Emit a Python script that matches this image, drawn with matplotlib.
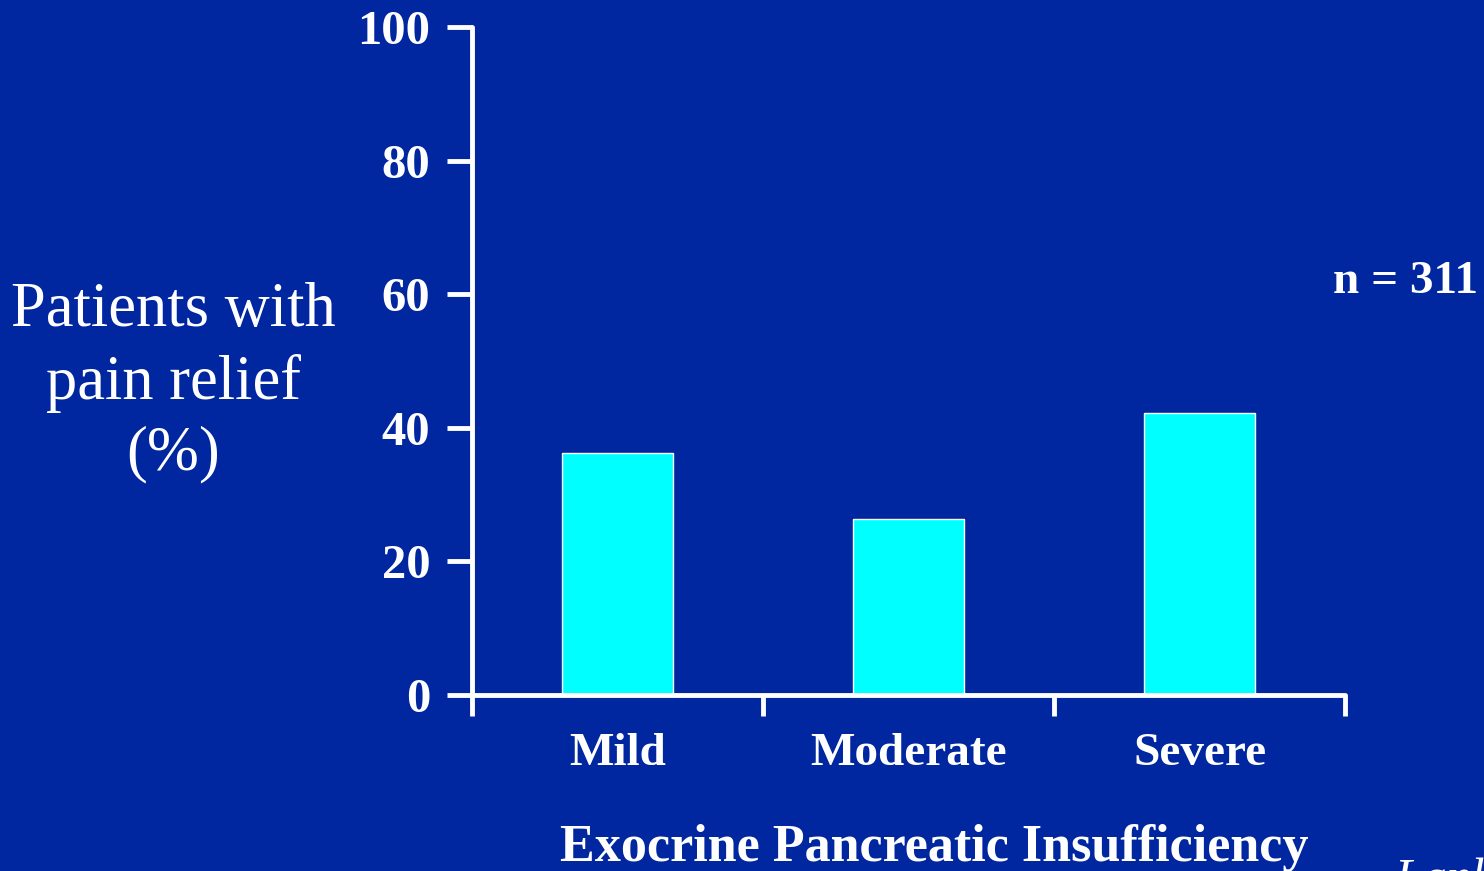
import numpy as np
import matplotlib.pyplot as plt

categories = ['Mild', 'Moderate', 'Severe']
relief_pct = [36.3, 26.3, 42.2]
y_ticks = [0, 20, 40, 60, 80, 100]

BG = '#0026A0'
BAR = '#00FFFF'

plt.rcParams['font.family'] = ['Liberation Serif', 'DejaVu Serif']

fig = plt.figure(figsize=(14.84, 8.71), dpi=100, facecolor=BG)
ax = fig.add_axes([472 / 1484, 1 - 695 / 871, (1345 - 472) / 1484, (695 - 27) / 871])
ax.set_facecolor(BG)

x = np.arange(len(categories)) + 0.5
ax.bar(x, relief_pct, width=0.38, color=BAR, edgecolor='white', linewidth=1, zorder=2)

ax.set_xlim(0, 3)
ax.set_ylim(0, 100)
ax.set_yticks(y_ticks)
ax.set_yticklabels([str(v) for v in y_ticks], fontsize=35, fontweight='bold', color='white')
ax.set_xticks([0, 1, 2, 3])
ax.set_xticklabels([])
for xi, name in zip(x, categories):
    ax.text(xi, -8.9, name, ha='center', va='center', fontsize=34, fontweight='bold',
            color='white', transform=ax.transData, clip_on=False)

for s in ['top', 'right']:
    ax.spines[s].set_visible(False)
for s in ['left', 'bottom']:
    ax.spines[s].set_color('white')
    ax.spines[s].set_linewidth(3.5)
    ax.spines[s].set_capstyle('round')
ax.tick_params(axis='y', direction='out', length=18, width=3.5, color='white', pad=12)
ax.tick_params(axis='x', direction='out', length=15, width=3.5, color='white')

fig.text(173 / 1484, 1 - 383 / 871, 'Patients with\npain relief\n(%)', ha='center', va='center',
         fontsize=45, color='white', linespacing=1.3)
fig.text(1478 / 1484, 1 - 282 / 871, 'n = 311', ha='right', va='center',
         fontsize=34, fontweight='bold', color='white')
fig.text(934 / 1484, 1 - 848 / 871, 'Exocrine Pancreatic Insufficiency', ha='center', va='center',
         fontsize=37.5, fontweight='bold', color='white')
fig.text(1395 / 1484, 1 - 893 / 871, 'Lankisch et al.', ha='left', va='baseline',
         fontsize=36, style='italic', color='white')

fig.savefig('out.png', dpi=100, facecolor=BG)
